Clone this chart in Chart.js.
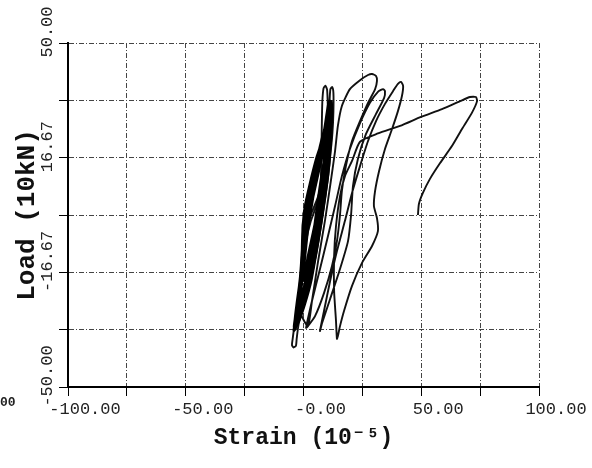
<!DOCTYPE html>
<html>
<head>
<meta charset="utf-8">
<script src="https://cdn.jsdelivr.net/npm/chart.js@4.4.0/dist/chart.umd.min.js"></script>
<style>
  html, body { margin: 0; padding: 0; background: #fff; }
</style>
</head>
<body>
<canvas id="chart" width="592" height="468"></canvas>
<script>
// small elastic cycles (dense band)
const bandStrain = [0,2.5,5,7.5,8.6,7,4,1.5,0.5,-0.2,0.2,
  2,4.5,6.5,8.5,10.2,11,9.8,7,4.2,1.5,0.2,-0.3,-1.2,-2,
  -0.5,1.8,4.2,6.2,8.3,10,11.1,11.6,10.8,9,7.2,4.2,1.2,-0.2,-0.4,-1,-2.4,-3.2,
  -1.6,1.2,3.8,5.6,7.3,9,10.5,11.4,11.8,11.7,10.9,9.8,8.2,5.8,2.8,0.6,-0.3,-0.7,-1.8,-3,-3.9,
  -2.5,0.4,3.2,5.3,7.2,8.8,10.2,11.2,11.6,11.4,10.2,8.6,6.4,3.6,1.2,0,-0.5,-1.3,-2.5,-3.5,-4,
  -2.8,-0.4,2.4,4.8,6.8,8.4,9.8,10.9,11.6,11.9,11.8,10.9,10,9,7.2,4.6,2,0.3,-0.3,-0.8,-2,-3.2,-3.7,
  -2,1,3.8,6,7.8,9.4,10.6,11.4,11.6,10.4,8.2,5.5,2.8,0.8,-0.1,-0.6,-1.6,-2.8,-3.6,
  -3,-0.5,2,4,5.5,7,8.5,9.8,10.6,10,8,5,3,1.8,1,0,-1,-2.2,-3.3,
  -2.4,0,2.5,4.6,6.3,8,9.5,10.8,11.3,10.6,9,6.8,4.2,2.6,1.6,0.4,-0.8,-2,-3,
  -2.6,-0.2,2.2,4.3,6,7.6,9,10.3,11.2,11.5,10.8,9.3,7.5,5.3,3.5,2.2,1.2,0.3,-0.6,-1.8,-3.1,
  -3.2,-0.8,1.5,3.6,5.2,6.7,8.2,9.6,10.6,11.2,10.5,8.7,6.8,4.8,3,1.8,0.8,-0.2,-1.4,-2.6,-3.4,
  -2,0.6,3,5,6.7,8.2,9.6,10.8,11.7,12,11.4,10.2,8.6,6.8,5,3.6,2.4,1.2,0,-1.2,-2.6,-3.6,
  -2.8,-0.3,2,3.8,5,6.2,7.6,9,10.3,11,10.2,8.6,6.8,5.3,4.2,3.1,1.9,0.6,-0.7,-2,-3.2,
  -2.2,0.4,2.8,4.6,5.8,7,8.4,9.8,10.9,11.4,10.6,9.2,7.8,6.6,5.5,4.4,3.2,1.8,0.4,-1,-2.4,-3.5,
  -3.4,-1,1.2,3,4.4,5.6,7,8.6,10,11,11.5,10.9,9.6,8,6.3,4.8,3.4,2.2,1,-0.3,-1.6,-3];
const bandLoad = [0,6,12,17.5,19,15,7,0,-8,-15,-19,
  -12,-4,3,11,18,22.5,22,16,9,2,-6,-15,-21,-25,
  -23,-17,-9,-1,7,14,20,26,26,21,17,10,3,-3,-12,-19,-26,-29.5,
  -28,-22,-15,-8,-1,6,13,20,27,30.5,30,27,22,17,9,2,-5,-14,-22,-28,-32.5,
  -31.5,-26,-19,-11,-3,4,11,18,24,28,27.5,22.5,17.5,10.5,4,-2,-10,-18,-25,-31,-33.5,
  -32,-27.5,-21,-13,-5,2,9,16,23,29,33,33,29.5,25,19.5,13,6,0,-8,-16,-23,-29,-32,
  -30,-23.5,-16,-8,0,7,14,21,25,24.5,20,14,7,1,-6,-14,-21,-27.5,-31.5,
  -31,-25,-17,-9,-2,6,13,20,25,25,19,10,4,0,-6,-14,-21,-27,-32,
  -30,-24,-16,-8,-1,7,14,21,27,27,21,14,6,1,-5,-13,-20,-26,-30,
  -31,-25,-17,-9,-2,5,12,19,25,30,30,25,20,14,8,3,-2,-9,-17,-24,-30,
  -32,-26,-18,-10,-3,4,11,18,24,29,28.5,23,18,12,6,1.5,-4,-11,-19,-26,-31.5,
  -29,-23,-15.5,-7.5,-0.5,6.5,13,19.5,25.5,31,31.5,28,24,19,13,8,3,-3,-10,-18,-25,-31,
  -31,-25,-17,-9,-3,3,10,17,23,27,27,23,18,13,9,4,-2,-9,-17,-24,-30,
  -30,-24,-16,-8,-2,4,11,18,24,28.5,28,24,20,16,12,7,2,-4,-11,-19,-26,-32,
  -32.5,-27,-19,-11,-5,1,8,15,21,26,30,30,26,21,16,11,6,1,-5,-13,-21,-29];

// two tall thin cycles and the small dip at the bottom
const spikeStrain = [-2.6,0.2,3,5.2,6.8,7.3,7.6,7.8,8,8.5,9.3,10,10.3,10.4,10,8.8,6,2.5,0.6,-0.2,-1,-2.5,-4,
  -4.6,-4.9,-4.2,-3.2,-2.9,
  -2,1.2,4,6.5,8.5,9.8,10.5,10.8,11,11.4,12.2,12.7,12.7,12.3,11.4,9.2,6.2,3,1,-0.2,-1.3,-2.8,-3.5,
  -2.2,0.8,3.5,5.8,7.6,9.2,10.6,11.5,11.8,11.6,10.5,9,6.5,3.8,1.4,0.2,-0.4,-1.2,-2,-1,1.9];
const spikeLoad = [-30,-24,-17,-9,-1,8,18,27,33,36.8,37.6,36.5,32,26,19,12,5,-1,-7,-14,-20,-27,-33,
  -36,-37.8,-38.5,-38,-36,
  -31.5,-24,-16,-7,2,10,18,26,32,36.5,37.2,35.5,30,24,18,11,4,-2,-8,-15,-22,-29,-32,
  -30.5,-24,-17,-9,-2,5,12,19,26,29,28,23,18,11,4,-1,-9,-17,-24,-29,-32.3];

// growing loops
const loopAStrain = [3.6,6.2,9.1,11.3,13.4,14.6,16.3,19.7,24.0,27.4,29.1,30.8,31.2,30.4,27.4,24.0,20.6,18.0,16.3,15.5,14.2,12.1,8.7,4.9,1.9,1.1];
const loopALoad = [-25.0,-13.4,-1.7,8.4,18.6,25.9,31.7,36.6,39.2,40.7,41.0,40.4,39.0,36.6,32.6,27.3,21.5,14.2,7.0,0,-7.6,-14.8,-22.7,-29.4,-32.3,-32.8];
const loopBStrain = [3.6,7.0,10.4,13.4,16.3,19.7,24.0,28.2,31.6,33.8,34.6,34.2,30.8,26.5,23.1,21.0,20.2,18.9,15.5,11.3,7.9,7.0];
const loopBLoad = [-25,-15.7,-6.1,2.6,11.3,19.2,26.7,32.6,35.8,36.6,36.0,34.0,29.4,23.5,16.3,8.4,0,-7.6,-15.7,-24.4,-31.4,-33.7];
const loopCStrain = [8.7,11.3,14.2,17.6,20.6,24.0,27.4,30.8,34.6,38.0,40.1,41.4,42.3,41.8,40.1,37.6,34.6,32.1,30.4,29.9,31.2,31.6,29.1,24.8,20.6,17.2,15.5,14.6,14.2];
const loopCLoad = [-27.9,-19.2,-10.5,-1.7,6.4,14.2,21.5,27.3,32.3,36.0,38.1,38.7,37.5,34.6,30.2,25.0,19.2,12.8,7.0,2.6,-0.9,-4.7,-9.0,-14.0,-20.6,-27.9,-32.3,-35.2,-36.0];
const loopDStrain = [13.8,13.0,13.0,13.8,15.5,17.6,20.6,24.0,31.6,41.0,49.9,58.8,66.5,70.7,73.2,73.7,71.5,67.3,63.1,58.0,53.7,50.7,49.0,48.6];
const loopDLoad = [-30.8,-22.1,-11.9,-3.2,5.5,11.3,15.7,21.3,23.7,25.9,28.5,30.8,33.1,34.3,34.3,33.1,29.7,25.0,20.1,15.1,10.5,6.4,3.2,0];

// axes
const strainTickLabels = { '-100': '-100.00', '-50': '-50.00', '0': '-0.00', '50': '50.00', '100': '100.00' };
const loadTicks = [-50, -33.333, -16.667, 0, 16.667, 33.333, 50];
const loadLabelValues = [50, 16.667, -16.667, -50];
const loadLabels = ['50.00', '16.67', '-16.67', '-50.00'];

const toPoints = (xs, ys) => xs.map((x, i) => ({ x: x, y: ys[i] }));
const bandPoints = toPoints(bandStrain, bandLoad);
const loopPoints = toPoints(
    [].concat(spikeStrain, loopAStrain, loopBStrain, loopCStrain, loopDStrain),
    [].concat(spikeLoad, loopALoad, loopBLoad, loopCLoad, loopDLoad)
);

const mono = '"Liberation Mono", "DejaVu Sans Mono", monospace';

const yLabels = {
    id: 'yLabels',
    afterDraw(chart) {
        const ctx = chart.ctx;
        const y = chart.scales.y;
        ctx.save();
        ctx.fillStyle = '#222';
        ctx.font = '17px ' + mono;
        ctx.textAlign = 'center';
        ctx.textBaseline = 'middle';
        loadLabelValues.forEach((v, i) => {
            ctx.save();
            ctx.translate(47, y.getPixelForValue(v) - 11);
            ctx.rotate(-Math.PI / 2);
            ctx.fillText(loadLabels[i], 0, 0);
            ctx.restore();
        });
        // clipped fragment at the lower left of the scan
        ctx.font = 'bold 13px ' + mono;
        ctx.textAlign = 'left';
        ctx.fillText('00', 0, 403);
        ctx.restore();
    }
};

const gridOpts = { color: '#444', lineWidth: 1, tickColor: '#000', tickLength: 9 };
const borderOpts = { display: true, color: '#000', width: 2, dash: [5, 2, 1, 2] };

new Chart(document.getElementById('chart'), {
    type: 'scatter',
    data: {
        datasets: [{
            data: bandPoints,
            showLine: true,
            borderColor: '#000',
            borderWidth: 3,
            pointRadius: 0,
            tension: 0.2
        }, {
            data: loopPoints,
            showLine: true,
            borderColor: '#111',
            borderWidth: 1.9,
            pointRadius: 0,
            tension: 0.2
        }]
    },
    options: {
        responsive: false,
        animation: false,
        layout: { padding: { top: 43, right: 53, left: 0, bottom: 0 } },
        plugins: { legend: { display: false }, tooltip: { enabled: false } },
        scales: {
            x: {
                type: 'linear', min: -100, max: 100,
                afterFit: s => { s.height = 81; },
                grid: gridOpts,
                border: borderOpts,
                ticks: {
                    stepSize: 25, autoSkip: false, maxRotation: 0, minRotation: 0,
                    labelOffset: 17, padding: 3, color: '#222',
                    font: { family: mono, size: 17 },
                    callback: v => strainTickLabels[String(v)] || ''
                },
                title: {
                    display: true, text: 'Strain (10⁻⁵)', color: '#111',
                    font: { family: mono, size: 23, weight: 'bold' },
                    padding: { top: 0, bottom: 16 }
                }
            },
            y: {
                type: 'linear', min: -50, max: 50,
                afterFit: s => { s.width = 68; },
                afterBuildTicks: s => { s.ticks = loadTicks.map(v => ({ value: v })); },
                grid: gridOpts,
                border: borderOpts,
                ticks: { display: false },
                title: {
                    display: true, text: 'Load (10kN)', color: '#111',
                    font: { family: mono, size: 26, weight: 'bold' },
                    padding: { top: 12, bottom: 0 }
                }
            }
        }
    },
    plugins: [yLabels]
});
</script>
</body>
</html>
